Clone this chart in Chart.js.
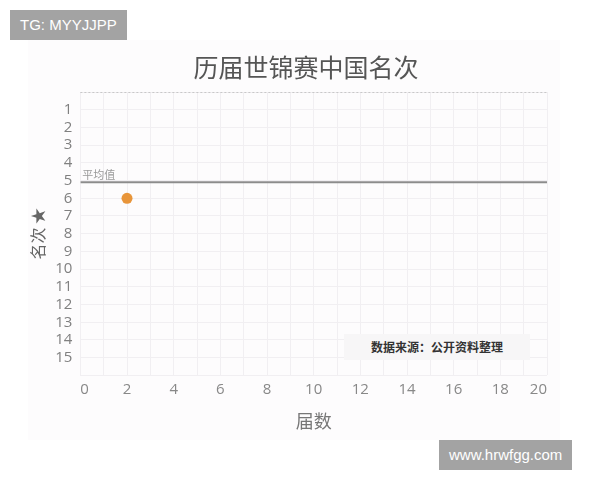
<!DOCTYPE html>
<html>
<head>
<meta charset="utf-8">
<script src="https://cdn.jsdelivr.net/npm/chart.js@4"></script>
<style>
  html, body { margin: 0; padding: 0; background: #fff; }
  #wrap { position: relative; width: 600px; height: 480px; }
  #panel { position: absolute; left: 28px; top: 40px; width: 532px; height: 400px; background: #fdfcfd; }
  canvas { position: absolute; left: 0; top: 0; }
  #title { position: absolute; left: 156px; top: 50px; width: 300px; text-align: center;
           font: 25px "Noto Sans CJK SC", sans-serif; color: #555; line-height: 32px; }
  .mark { position: absolute; background: #a3a3a3; color: #fff; font: 15px "Liberation Sans", Arial, sans-serif; padding: 0 10px; line-height: 30px; }
  #src { position: absolute; left: 344px; top: 334px; width: 186px; height: 26px; background: #f7f6f7;
         font: bold 12px "Noto Sans CJK SC", sans-serif; color: #333; line-height: 26px; text-align: center; }
</style>
</head>
<body>
<div id="wrap">
  <div id="panel"></div>
  <canvas id="rank" width="600" height="480"></canvas>
  <div id="title">历届世锦赛中国名次</div>
  <div id="src">数据来源：公开资料整理</div>
  <div class="mark" style="left:10px;top:10px;">TG: MYYJJPP</div>
  <div class="mark" style="left:439px;top:440px;">www.hrwfgg.com</div>
</div>
<script>
// edition number (x) and China's rank (y)
var editions = [2];
var ranks = [6];
// average line
var avgX = [0, 20];
var avgRank = 5.1;
var avgLabel = '平均值';

var xTicks = [0, 2, 4, 6, 8, 10, 12, 14, 16, 18, 20];
var yTicks = [1, 2, 3, 4, 5, 6, 7, 8, 9, 10, 11, 12, 13, 14, 15];

// dotted top line + avg label
const extrasPlugin = {
  id: 'extras',
  afterDatasetsDraw(chart) {
    const { ctx, chartArea: { left, right, top }, scales: { x, y } } = chart;
    ctx.save();
    ctx.strokeStyle = '#c8c8c8';
    ctx.lineWidth = 1;
    ctx.setLineDash([2, 2]);
    ctx.beginPath();
    ctx.moveTo(left, top + 0.5);
    ctx.lineTo(right, top + 0.5);
    ctx.stroke();
    ctx.setLineDash([]);
    ctx.fillStyle = '#999';
    ctx.font = '11px "Noto Sans CJK SC"';
    ctx.textBaseline = 'bottom';
    ctx.fillText(avgLabel, x.getPixelForValue(avgX[0]) + 2, y.getPixelForValue(avgRank) - 2);
    ctx.restore();
  }
};

var chart = new Chart('rank', {
  type: 'scatter',
  data: {
    datasets: [
      {
        label: '名次',
        data: editions.map(function(e, i) { return { x: e, y: ranks[i] }; }),
        backgroundColor: '#e8953a',
        borderWidth: 0,
        pointRadius: 5.5
      },
      {
        label: avgLabel,
        type: 'line',
        data: avgX.map(function(e) { return { x: e, y: avgRank }; }),
        borderColor: '#8c8c8c',
        borderWidth: 2,
        pointRadius: 0
      }
    ]
  },
  options: {
    responsive: false,
    animation: false,
    layout: { padding: { left: 25, right: 53, top: 92, bottom: 44 } },
    plugins: {
      legend: { display: false },
      tooltip: { enabled: false },
      title: { display: false }
    },
    scales: {
      x: {
        type: 'linear',
        min: 0,
        max: 20,
        border: { display: false },
        grid: { color: '#f1eff2', drawTicks: false },
        ticks: {
          stepSize: 1,
          autoSkip: false,
          maxRotation: 0,
          minRotation: 0,
          align: 'inner',
          padding: 5,
          color: '#888',
          font: { family: 'Open Sans', size: 15 },
          callback: function(v) { return xTicks.indexOf(v) >= 0 ? String(v) : ''; }
        },
        title: {
          display: true,
          text: '届数',
          color: '#777',
          font: { family: 'Noto Sans CJK SC', size: 18 },
          padding: { top: 7, bottom: 4 }
        }
      },
      y: {
        type: 'linear',
        min: 0,
        max: 16,
        reverse: true,
        border: { display: false },
        grid: { color: '#f1eff2', drawTicks: false },
        ticks: {
          stepSize: 1,
          autoSkip: false,
          padding: 8,
          color: '#808080',
          font: { family: 'Open Sans', size: 15 },
          callback: function(v) { return yTicks.indexOf(v) >= 0 ? String(v) : ''; }
        },
        title: {
          display: true,
          text: '名次 ★',
          color: '#666',
          font: { family: 'Noto Sans CJK SC', size: 16 },
          padding: { top: 3, bottom: 0 }
        }
      }
    }
  },
  plugins: [extrasPlugin]
});
</script>
</body>
</html>
